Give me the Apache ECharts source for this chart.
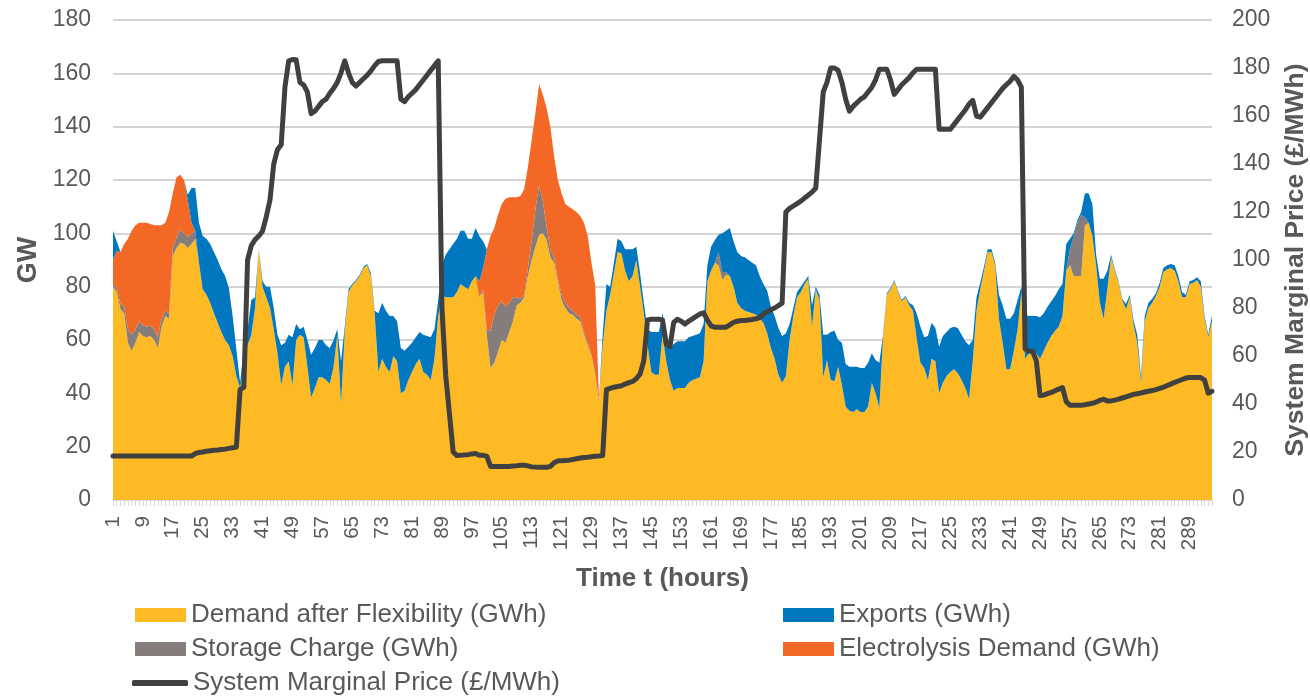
<!DOCTYPE html>
<html>
<head>
<meta charset="utf-8">
<script src="https://cdn.jsdelivr.net/npm/echarts@6/dist/echarts.min.js"></script>
<style>
html,body{margin:0;padding:0;background:#fff;}
#chart{width:1310px;height:697px;}
</style>
</head>
<body>
<div id="chart"></div>
<script>
// Hours 1..295
var hours = [];
for (var i = 1; i <= 295; i++) hours.push(String(i));

var demandAfterFlex = [
80,78,71.5,70,59,56,59,63,61.5,61,
61.5,60,57,65,69,68,91.5,94.5,96.5,96,
94.5,96,98,89,79,77,74,70,66.5,63,
60,58,54,46.5,42,50,58,62,72,94,
80,76,72,64,55,43,50,52,43,60,
62,61,50,38.5,42,46,46,45,43.5,50,
62,36,63,78,80.5,82,84,87,88,84,
70,48,53,50,48,54,52,40,41,45,
48,51,53,48,47,45,53,69,77,76,
76,76,78,81,80,79,82,84,76,78,
62,49.5,51.5,55.5,60,59,63,67,73,74,
76,84,90,95,99.5,100,97.5,91,89,82,
75,72,70,69.5,68,67,62,58,54,47,
37,58,71,77,85,93,92.5,86,82,84,
90,80,70,58,48,47,47,62,52,45,
41,42,42,42,44,45,45.5,46,52,82,
86,89,88,82.5,84.5,84,80,74,72,71,
70.5,70,69.5,68,66.5,62.5,57,53,47,44,
46.5,60,69,76,78,81,83,65,79,75,
46,52.5,45,44.5,50,43,35,33.5,33,34,
33,33,35,44,40,34.5,61,77,79,82,
78,74.5,76,73,71,60.5,51.5,49.5,45,53,
52,40,44,46.5,48,49,47.5,45,42,38,
52,71,79,86,93,93,88,68,59,49,
49,56,64,78,53,55,56,55,53,56,
59,61.5,63.5,65,69,86,88,84,84,84,
103,104,99,88,74,68,79,91,86,81.5,
75,71.5,76,66,59,44,67,72,74,76.5,
80,85.5,86.5,87,86,82,76,76,81,81.5,
82.5,80,68,61,67
];

var storageCharge = [
1,1.5,2,2.5,5,6,5,4,4,4,
4,4,4,3,2,2,3,4,5,4,
4,4,3,0,0,0,0,0,0,0,
0,0,0,0,0,0,0,0,0,0,
0,0,0,0,0,0,0,0,0,0,
0,0,0,0,0,0,0,0,0,0,
0,0,0,0,0,0,0,0,0,0,
0,0,0,0,0,0,0,0,0,0,
0,0,0,0,0,0,0,0,0,0,
0,0,0,0,0,0,0,0,0,1,
2,14,18,17.5,14.5,13.5,11,9,3,1.5,
1,3,7,14,18.5,12,5,3,2,1,
2,2,2,1.5,1.5,1.5,1,1,0.5,0.5,
0,0,0,0,0,0,0,0,0,0,
0,0,0,0,0,0,0,0,0,0,
0,0,0,0,0,0,0,0,0,0,
0,0,5,3,1,0,0,0,0,0,
0,0,0,0,0,0,0,0,0,0,
0,0,0,0,0,0,0,0,0,0,
0,0,0,0,0,0,0,0,0,0,
0,0,0,0,0,0,0,0,0,0,
0,0,0,0,0,0,0,0,0,0,
0,0,0,0,0,0,0,0,0,0,
0,0,0,0,0,0,0,0,0,0,
0,0,0,0,0,0,0,0,0,0,
0,0,0,0,0,0,6,15,20,23,
3,0,0,0,0,0,0,0,0,0,
0,0,0,0,0,0,0,0,0,0,
0,0,0,0,0,0,0,0,0,0,
0,0,0,0,0
];

var electrolysisDemand = [
9,14,19.5,23.5,34,39,39,37,38.5,39,
38,39,42,35,33,38,20.5,22.5,20.5,20,
14,4,0,0,0,0,0,0,0,0,
0,0,0,0,0,0,0,0,0,0,
0,0,0,0,0,0,0,0,0,0,
0,0,0,0,0,0,0,0,0,0,
0,0,0,0,0,0,0,0,0,0,
0,0,0,0,0,0,0,0,0,0,
0,0,0,0,0,0,0,0,0,0,
0,0,0,0,0,0,0,0,6,8,
30,35.5,32.5,34,36.5,40.5,39.5,37.5,37.5,38.5,
39.5,38,38,36,38,40,44.5,46,38,37,
38,37,38,38,38.5,38,41,40,34.5,33,
1,0,0,0,0,0,0,0,0,0,
0,0,0,0,0,0,0,0,0,0,
0,0,0,0,0,0,0,0,0,0,
0,0,0,0,0,0,0,0,0,0,
0,0,0,0,0,0,0,0,0,0,
0,0,0,0,0,0,0,0,0,0,
0,0,0,0,0,0,0,0,0,0,
0,0,0,0,0,0,0,0,0,0,
0,0,0,0,0,0,0,0,0,0,
0,0,0,0,0,0,0,0,0,0,
0,0,0,0,0,0,0,0,0,0,
0,0,0,0,0,0,0,0,0,0,
0,0,0,0,0,0,0,0,0,0,
0,0,0,0,0,0,0,0,0,0,
0,0,0,0,0,0,0,0,0,0,
0,0,0,0,0,0,0,0,0,0,
0,0,0,0,0
];

var exportsGWh = [
11,3.5,0,0,0,0,0,0,0,0,
0,0,0,0,0,0,0,0,0,0,
2,13,16,15,20,21,22,23,23.5,23.5,
24,21.5,15,10,2,7,6,13,4,0,
2,4,8,8,7,15,9,10,18,6,
2,4,10,16,15,14,14,13,13.5,10,
2,16,2,1,0.5,0.5,0.5,0.5,0.5,1,
1,22,21,21,21,15,15,17,15,12.5,
11,10,10,14,14.5,16,11,6,11,16,
18,20,20,20,21,19,16,18,17,10,
0,0,0,0,0,0,0,0,0,0,
0,0,0,0,0,0,0,0,0,0,
0,0,0,0,0,0,0,0,0,0,
0,4,10,3,4,5,4.5,8,12,10,
5,5,4,6,15,16,16,8,10,12,
17.5,17.5,17.5,17.5,17,16.5,16.5,16.5,14,6,
9,8.5,6.5,14.5,15.5,18,17,19,19.5,20,
19.5,19,18.5,16,14.5,16,15.5,16,17.5,17.5,
16,6,3,2,2,1,1,8,1,2,
16,9.5,18,19,10,16,16,16.5,17,16,
16.5,16.5,16.5,11,12.5,17,1,0.5,0.5,0.5,
0.5,0.5,0.5,1,2,9.5,13.5,11.5,16.5,13.5,
12.5,17.5,17.5,16.5,16.5,16,17,17,17.5,20,
8,5,2.5,1.5,1,1,1,9,14,19,
19,14,11,2,16.5,14,13,14,15.5,14,
13.5,13,13,14,12,10,4,1,1,1,
9,11,12,4,9,15,7,1,0.5,0.5,
0.5,2,1,1.5,3,2,2,2,1.5,1,
1.5,1.5,1.5,1.5,2,2,2,1,1,1,
1,2,1,1,2
];

var systemMarginalPrice = [
18.3,18.3,18.3,18.3,18.3,18.3,18.3,18.3,18.3,18.3,
18.3,18.3,18.3,18.3,18.3,18.3,18.3,18.3,18.3,18.3,
18.3,18.3,19.3,19.8,20,20.3,20.5,20.7,20.8,21,
21.2,21.5,21.8,22,46,47,100,106,108.5,110,
112,118,125,140,146,148,172,183,183.5,183.4,
174,173,170,161,162,164,166,167,169.5,171.5,
174,178,183,178,174,172.5,174,175.5,177,178.8,
181,182.7,183,183,183,183,183,167,166,168,
169.5,171,173,175,177,179,181,183,80,52,
36,20,18.5,18.6,18.8,18.9,19.2,19.4,18.6,18.6,
18.3,14,14,14,14,14,14,14.2,14.3,14.5,
14.5,14.2,13.8,13.7,13.6,13.6,13.6,14,15.5,16.3,
16.4,16.5,16.6,16.9,17.2,17.5,17.7,17.8,18,18.2,
18.3,18.5,46,46.5,47,47.3,47.6,48.3,48.9,49.4,
50.5,52.5,58,75,75.3,75.3,75.3,75,65,64,
74,75.3,74.5,73.3,74.5,75.5,76.5,77.5,78,75,
72.5,72,72,72,72,73,74,74.5,74.8,74.8,
75,75.2,75.5,76,77.5,78.5,79.3,80,81,82,
120,121.5,122.5,123.5,124.5,125.8,127,128.3,130,150,
170,174,180,180,179,174,167,162,164,165.5,
167,168,170,172,175,179.5,179.5,179.5,175,169,
171,173,174.5,176,178,179.5,179.5,179.5,179.5,179.5,
179.5,154.5,154.5,154.5,154.5,156.5,158.5,160.5,162.5,165,
166.5,160,159.5,161.5,163.5,165.5,167.5,169.5,171.5,173,
174.5,176.5,175,172,63,62,62,58,43.5,43.7,
44.3,44.8,45.5,46.2,46.8,41,39.5,39.5,39.5,39.5,
39.7,40,40.3,40.8,41.5,42,41.3,41.3,41.6,42,
42.5,43,43.5,44,44.3,44.6,45,45.3,45.6,46,
46.5,47,47.7,48.3,49,49.6,50.2,50.8,51,51,
51,51,50,44.5,45.3
];

var leftTicks = {min: 0, max: 180, interval: 20};
var rightTicks = {min: 0, max: 200, interval: 20};

var NAMES = {
  demand: 'Demand after Flexibility (GWh)',
  exports: 'Exports (GWh)',
  storage: 'Storage Charge (GWh)',
  electro: 'Electrolysis Demand (GWh)',
  price: 'System Marginal Price (£/MWh)'
};
var COLORS = {
  demand: '#FDBA25',
  exports: '#0077BF',
  storage: '#857D7B',
  electro: '#F26824',
  price: '#404040'
};
var FONT = 'Liberation Sans, Arial, Helvetica, sans-serif';
var TXT = '#595959';

function areaSeries(name, data, color) {
  return {
    name: name, type: 'line', stack: 'total', data: data,
    symbol: 'none', showSymbol: false,
    lineStyle: {width: 0, color: color},
    itemStyle: {color: color},
    areaStyle: {color: color, opacity: 1},
    emphasis: {disabled: true},
    yAxisIndex: 0, z: 2
  };
}

function legendItem(name, left, top, extra) {
  var o = {
    data: [name], left: left, top: top, orient: 'horizontal',
    padding: 0, itemWidth: 51, itemHeight: 14, itemGap: 0,
    textStyle: {fontSize: 26, color: TXT, fontFamily: FONT, padding: [0,0,0,0]},
    icon: 'rect'
  };
  if (extra) for (var k in extra) o[k] = extra[k];
  return o;
}

var chart = echarts.init(document.getElementById('chart'), null, {renderer: 'canvas'});
chart.setOption({
  animation: false,
  backgroundColor: '#ffffff',
  textStyle: {fontFamily: FONT},
  grid: {left: 113, right: 98, top: 20, bottom: 197, containLabel: false, outerBoundsMode: 'none'},
  legend: [
    legendItem(NAMES.demand, 135, 602),
    legendItem(NAMES.exports, 783, 602),
    legendItem(NAMES.storage, 135, 636),
    legendItem(NAMES.electro, 783, 636),
    legendItem(NAMES.price, 132, 670, {icon: 'roundRect', itemWidth: 56, itemHeight: 6})
  ],
  xAxis: {
    type: 'category', data: hours, boundaryGap: false,
    name: 'Time t (hours)', nameLocation: 'middle', nameGap: 66,
    nameTextStyle: {fontSize: 26, fontWeight: 'bold', color: TXT, fontFamily: FONT},
    axisLine: {show: true, lineStyle: {color: '#d9d9d9', width: 1.5}},
    axisTick: {show: true, interval: 0, length: 6, lineStyle: {color: '#d9d9d9', width: 1}},
    axisLabel: {interval: 7, rotate: 90, fontSize: 20.5, color: TXT, margin: 16, fontFamily: FONT},
    splitLine: {show: false}
  },
  yAxis: [
    {
      type: 'value', min: leftTicks.min, max: leftTicks.max, interval: leftTicks.interval,
      name: 'GW', nameLocation: 'middle', nameGap: 70, nameRotate: 90,
      nameTextStyle: {fontSize: 27, fontWeight: 'bold', color: TXT, fontFamily: FONT},
      axisLine: {show: false}, axisTick: {show: false},
      axisLabel: {fontSize: 23, color: TXT, margin: 22, fontFamily: FONT},
      splitLine: {show: true, lineStyle: {color: '#d4d4d4', width: 2}}
    },
    {
      type: 'value', min: rightTicks.min, max: rightTicks.max, interval: rightTicks.interval,
      position: 'right',
      name: 'System Marginal Price (£/MWh)', nameLocation: 'middle', nameGap: 70, nameRotate: 90,
      nameTextStyle: {fontSize: 26.5, fontWeight: 'bold', color: TXT, fontFamily: FONT},
      axisLine: {show: false}, axisTick: {show: false},
      axisLabel: {fontSize: 23, color: TXT, margin: 20, fontFamily: FONT},
      splitLine: {show: false}
    }
  ],
  series: [
    areaSeries(NAMES.demand, demandAfterFlex, COLORS.demand),
    areaSeries(NAMES.storage, storageCharge, COLORS.storage),
    areaSeries(NAMES.electro, electrolysisDemand, COLORS.electro),
    areaSeries(NAMES.exports, exportsGWh, COLORS.exports),
    {
      name: NAMES.price, type: 'line', data: systemMarginalPrice, yAxisIndex: 1,
      symbol: 'none', showSymbol: false,
      lineStyle: {width: 5, color: COLORS.price, cap: 'round', join: 'round'},
      itemStyle: {color: COLORS.price},
      emphasis: {disabled: true}, z: 5
    }
  ]
});
</script>
</body>
</html>
